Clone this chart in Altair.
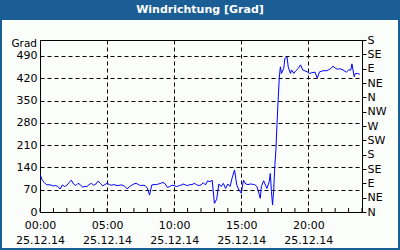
import altair as alt
import pandas as pd

# ---- data ----
times = ["00:00","00:10","00:20","00:30","00:40","00:50","01:00","01:10","01:20","01:30","01:40","01:50",
         "02:00","02:10","02:20","02:30","02:40","02:50","03:00","03:10","03:20","03:30","03:40","03:50",
         "04:00","04:10","04:20","04:30","04:40","04:50","05:00","05:10","05:20","05:30","05:40","05:50",
         "06:00","06:10","06:20","06:30","06:40","06:50","07:00","07:10","07:20","07:30","07:40","07:50",
         "08:00","08:10","08:20","08:30","08:40","08:50","09:00","09:10","09:20","09:30","09:40","09:50",
         "10:00","10:10","10:20","10:30","10:40","10:50","11:00","11:10","11:20","11:30","11:40","11:50",
         "12:00","12:10","12:20","12:30","12:40","12:50","13:00","13:10","13:20","13:30","13:40","13:50",
         "14:00","14:10","14:20","14:30","14:40","14:50","15:00","15:10","15:20","15:30","15:40","15:50",
         "16:00","16:10","16:15","16:25","16:30","16:40","16:55","17:05","17:10","17:15","17:20","17:25",
         "17:30","17:35","17:40","17:45","17:50","17:55","18:00","18:10","18:15","18:25","18:30","18:40",
         "18:45","18:55","19:05","19:15","19:25","19:35","19:45","19:55","20:05","20:15","20:30","20:40",
         "20:50","21:00","21:10","21:20","21:30","21:40","21:50","22:00","22:10","22:20","22:35","22:50",
         "23:00","23:10","23:15","23:25","23:30","23:40","23:50"]
values = [119,100,92,85,86,84,82,83,80,72,85,80,
          84,92,100,88,83,90,86,78,80,80,86,90,
          84,88,97,90,82,86,90,86,84,86,84,83,
          85,84,80,72,80,84,88,90,86,83,84,83,
          75,53,85,86,86,88,90,93,88,77,80,84,
          83,80,82,84,88,85,83,86,86,90,86,83,
          85,92,85,98,95,100,27,40,88,80,90,74,
          88,80,109,132,85,69,59,100,88,86,88,87,
          86,80,69,43,80,98,74,95,121,64,22,69,
          142,195,278,352,420,456,435,451,482,486,456,435,
          446,435,444,451,462,446,443,440,435,437,439,420,
          440,442,444,443,446,450,458,452,448,450,446,439,
          446,446,465,425,435,435,432,435]

x_label_hours = [0, 5, 10, 15, 20]
minor_hours = list(range(0, 25))
y_ticks = [0, 70, 140, 210, 280, 350, 420, 490]
dir_ticks = list(range(0, 541, 45))
dir_labels = ["N","NE","E","SE","S","SW","W","NW","N","NE","E","SE","S"]
date_label = "25.12.14"
title_text = "Windrichtung [Grad]"
unit_text = "Grad"

n = min(len(times), len(values))
df = pd.DataFrame({"time": times[:n], "value": values[:n]})
df["hour"] = df["time"].apply(lambda t: int(t[:2]) + int(t[3:]) / 60)
minor_df = pd.DataFrame({"hour": minor_hours})
one = pd.DataFrame({"a": [0]})

BLUE = "#1b5e96"
FONT = "DejaVu Sans"

xscale = alt.Scale(domain=[0, 24], nice=False, zero=False)
yscale = alt.Scale(domain=[0, 540], nice=False)

dir_expr = "[" + ",".join("'%s'" % d for d in dir_labels) + "][round(datum.value/45)]"

line = alt.Chart(df).mark_line(color="#0000ff", strokeWidth=1, clip=True).encode(
    x=alt.X("hour:Q", scale=xscale,
            axis=alt.Axis(values=x_label_hours, grid=True, ticks=False, title=None,
                          labelExpr="[format(datum.value,'02d')+':00', '%s']" % date_label,
                          labelPadding=7, labelLineHeight=15, labelFlush=False)),
    y=alt.Y("value:Q", scale=yscale,
            axis=alt.Axis(values=y_ticks, grid=True, ticks=False, title=None,
                          orient="left", labelPadding=3)),
)

right = alt.Chart(df).mark_line(opacity=0).encode(
    x=alt.X("hour:Q", scale=xscale),
    y=alt.Y("value:Q", scale=yscale,
            axis=alt.Axis(values=dir_ticks, grid=False, ticks=True, tickSize=4,
                          orient="right", title=None, labelExpr=dir_expr,
                          labelPadding=1, domain=False, labelFlush=False)),
)

minor = alt.Chart(minor_df).mark_rule(color="black", strokeWidth=1).encode(
    x=alt.X("hour:Q", scale=xscale),
    y=alt.value(172), y2=alt.value(168),
)

header = alt.Chart(one).mark_rect(fill=BLUE).encode(
    x=alt.value(-40), x2=alt.value(360), y=alt.value(-40), y2=alt.value(-20))
border = alt.Chart(one).mark_rect(fill=None, stroke=BLUE, strokeWidth=2).encode(
    x=alt.value(-39), x2=alt.value(359), y=alt.value(-39), y2=alt.value(209))
title = alt.Chart(one).mark_text(color="white", font=FONT, fontSize=11, fontWeight="bold",
                                 align="center", baseline="middle").encode(
    x=alt.value(160), y=alt.value(-30), text=alt.value(title_text))
unit = alt.Chart(one).mark_text(color="black", font=FONT, fontSize=10.5,
                                align="right", baseline="middle").encode(
    x=alt.value(-3), y=alt.value(4), text=alt.value(unit_text))

chart = alt.layer(header, border, title, unit, line, right, minor).resolve_scale(
    y="independent"
).properties(
    width=322, height=172,
    padding={"left": 40, "top": 40, "right": 38, "bottom": 38},
    autosize=alt.AutoSizeParams(type="none"),
    background="#fbfdfb",
).configure_view(
    stroke="black", strokeWidth=1, fill="#fbfdfb"
).configure_axis(
    labelFont=FONT, labelFontSize=11, labelColor="black",
    domainColor="black", domainWidth=1, tickColor="black",
    gridColor="black", gridDash=[4, 3], gridOpacity=1, gridWidth=1,
)

chart.save("out.html", embed_options={"renderer": "svg", "actions": False})
